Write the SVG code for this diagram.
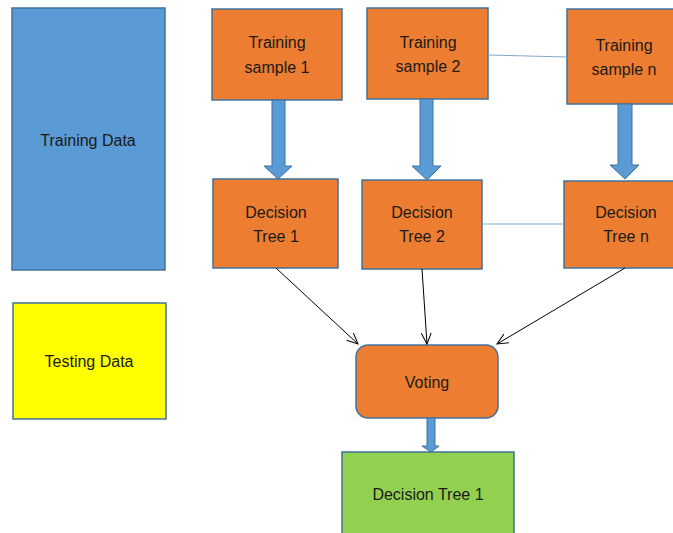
<svg xmlns="http://www.w3.org/2000/svg" width="673" height="533" viewBox="0 0 673 533">
<defs>
<style>
.box{stroke:#41719C;stroke-width:1.5}
.or{fill:#ED7D31}
.t{font-family:"Liberation Sans",Arial,sans-serif;font-size:16px;fill:#1a1a1a;text-anchor:middle}
.big{fill:#5B9BD5;stroke:#41719C;stroke-width:1}
.thin{stroke:#000;stroke-width:1;fill:none}
.link{stroke:#7FA7D0;stroke-width:1;fill:none}
</style>
<marker id="ah" viewBox="0 0 12 12" refX="11" refY="6" markerWidth="12" markerHeight="12" markerUnits="userSpaceOnUse" orient="auto">
<path d="M0,1 L11,6 L0,11" fill="none" stroke="#000" stroke-width="1"/>
</marker>
</defs>
<rect width="673" height="533" fill="#fff"/>
<g id="training-data"><rect class="box" x="12" y="8" width="153" height="262" fill="#5B9BD5"/><text class="t" x="88" y="146">Training Data</text></g>
<g id="testing-data"><rect class="box" x="13" y="303" width="153" height="116" fill="#FFFF00"/><text class="t" x="89" y="367">Testing Data</text></g>
<g id="sample1"><rect class="box or" x="212" y="9" width="130" height="91"/><text class="t" x="277" y="48">Training</text><text class="t" x="277" y="73">sample 1</text></g>
<g id="sample2"><rect class="box or" x="367" y="8" width="121" height="91"/><text class="t" x="428" y="48">Training</text><text class="t" x="428" y="72">sample 2</text></g>
<g id="samplen"><rect class="box or" x="567" y="9" width="110" height="95"/><text class="t" x="624" y="51">Training</text><text class="t" x="624" y="75">sample n</text></g>
<g id="tree1"><rect class="box or" x="213" y="179" width="125" height="89"/><text class="t" x="276" y="218">Decision</text><text class="t" x="276" y="242">Tree 1</text></g>
<g id="tree2"><rect class="box or" x="362" y="180" width="120" height="89"/><text class="t" x="422" y="218">Decision</text><text class="t" x="422" y="242">Tree 2</text></g>
<g id="treen"><rect class="box or" x="564" y="181" width="113" height="87"/><text class="t" x="626" y="218">Decision</text><text class="t" x="626" y="242">Tree n</text></g>
<g id="voting"><rect class="box or" x="356" y="345" width="142" height="73" rx="12"/><text class="t" x="427" y="388">Voting</text></g>
<g id="result"><rect class="box" x="342" y="452" width="172" height="85" fill="#92D050"/><text class="t" x="428" y="500">Decision Tree 1</text></g>
<g id="connectors">
<path class="big" d="M272,100 H285 V166 H292 L278,179 L264,166 H272 Z"/>
<path class="big" d="M420,99 H433 V166 H441 L427,180 L412,166 H420 Z"/>
<path class="big" d="M618,104 H632 V165 H639 L625,179 L610,165 H618 Z"/>
<path class="big" d="M427,418 H435 V446 H439 L431,452 L422,446 H427 Z"/>
<line class="link" x1="488" y1="55" x2="567" y2="57"/>
<line class="link" x1="482" y1="224" x2="564" y2="224"/>
<line class="thin" x1="276" y1="268" x2="358" y2="344" marker-end="url(#ah)"/>
<line class="thin" x1="422" y1="269" x2="427" y2="344" marker-end="url(#ah)"/>
<line class="thin" x1="625" y1="268" x2="497" y2="344" marker-end="url(#ah)"/>
</g>
</svg>
